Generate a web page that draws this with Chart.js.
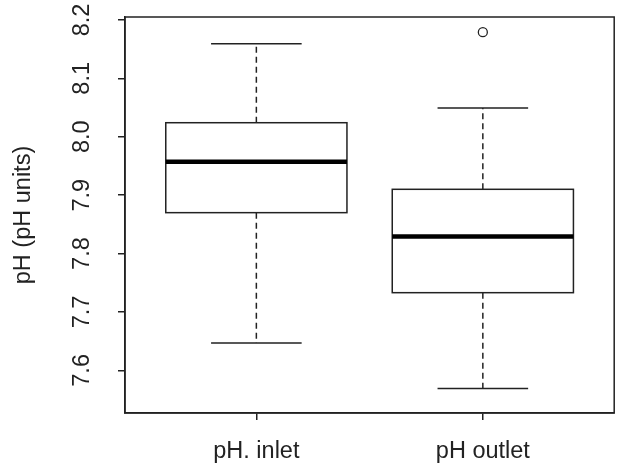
<!DOCTYPE html>
<html>
<head>
<meta charset="utf-8">
<script src="https://cdn.jsdelivr.net/npm/chart.js@4.4.1/dist/chart.umd.min.js"></script>
<style>
  html, body { margin: 0; padding: 0; background: #fff; }
  #wrap { width: 620px; height: 472px; position: relative; }
</style>
</head>
<body>
<div id="wrap"><canvas id="c" width="620" height="472"></canvas></div>
<script>
// ---- data ----
const categories  = ['pH. inlet', 'pH outlet'];
const whiskerLow  = [7.647, 7.569];
const q1          = [7.870, 7.733];
const median      = [7.957, 7.829];
const q3          = [8.024, 7.910];
const whiskerHigh = [8.159, 8.049];
const outliers    = [[], [8.179]];
const yTicks      = [7.6, 7.7, 7.8, 7.9, 8.0, 8.1, 8.2];
const yTitle      = 'pH (pH units)';

// ---- styles ----
const FONT = "'Liberation Sans', Arial, sans-serif";
const FSIZE = 23.5;
const INK = '#222';
const BOX_WIDTH = 0.8;

const outlierPoints = [];
outliers.forEach((arr, i) => arr.forEach(v => outlierPoints.push({ x: i + 1, y: v })));

const boxPlugin = {
  id: 'boxplot',
  beforeDatasetsDraw(chart) {
    const { ctx, chartArea, scales } = chart;
    const xs = scales.x, ys = scales.y;
    ctx.save();
    ctx.strokeStyle = INK;
    categories.forEach((c, i) => {
      const cx = xs.getPixelForValue(i + 1);
      const xl = xs.getPixelForValue(i + 1 - BOX_WIDTH / 2);
      const xr = xs.getPixelForValue(i + 1 + BOX_WIDTH / 2);
      const cl = xs.getPixelForValue(i + 1 - BOX_WIDTH / 4);
      const cr = xs.getPixelForValue(i + 1 + BOX_WIDTH / 4);
      const yLo = ys.getPixelForValue(whiskerLow[i]);
      const yQ1 = ys.getPixelForValue(q1[i]);
      const yMd = ys.getPixelForValue(median[i]);
      const yQ3 = ys.getPixelForValue(q3[i]);
      const yHi = ys.getPixelForValue(whiskerHigh[i]);
      // whiskers (dashed)
      ctx.lineWidth = 1.5;
      ctx.setLineDash([6, 4]);
      ctx.beginPath();
      ctx.moveTo(cx, yQ3); ctx.lineTo(cx, yHi);
      ctx.moveTo(cx, yQ1); ctx.lineTo(cx, yLo);
      ctx.stroke();
      ctx.setLineDash([]);
      // caps
      ctx.beginPath();
      ctx.moveTo(cl, yHi); ctx.lineTo(cr, yHi);
      ctx.moveTo(cl, yLo); ctx.lineTo(cr, yLo);
      ctx.stroke();
      // box
      ctx.fillStyle = '#fff';
      ctx.fillRect(xl, yQ3, xr - xl, yQ1 - yQ3);
      ctx.strokeRect(xl, yQ3, xr - xl, yQ1 - yQ3);
      // median
      ctx.lineWidth = 4.5;
      ctx.strokeStyle = '#000';
      ctx.beginPath();
      ctx.moveTo(xl, yMd); ctx.lineTo(xr, yMd);
      ctx.stroke();
      ctx.strokeStyle = INK;
    });
    // frame
    ctx.lineWidth = 1.5;
    ctx.strokeRect(chartArea.left, chartArea.top, chartArea.right - chartArea.left, chartArea.bottom - chartArea.top);
    ctx.restore();
  }
};

new Chart(document.getElementById('c'), {
  type: 'scatter',
  data: {
    datasets: [{
      data: outlierPoints,
      pointStyle: 'circle',
      pointRadius: 4.5,
      pointHoverRadius: 4.5,
      pointBorderWidth: 1.3,
      pointBorderColor: INK,
      pointBackgroundColor: '#fff',
      showLine: false
    }]
  },
  options: {
    responsive: false,
    animation: false,
    events: [],
    layout: { padding: { top: 17, right: 5, left: 0, bottom: 0 } },
    plugins: { legend: { display: false }, tooltip: { enabled: false } },
    scales: {
      x: {
        type: 'linear',
        min: 0.42, max: 2.58,
        afterBuildTicks: s => { s.ticks = categories.map((c, i) => ({ value: i + 1 })); },
        afterFit: s => { s.height = 59; s.paddingLeft = 0; s.paddingRight = 0; },
        ticks: {
          callback: (v) => categories[Math.round(v) - 1],
          font: { family: FONT, size: FSIZE },
          color: '#222',
          padding: 17,
          maxRotation: 0, minRotation: 0
        },
        grid: { display: true, drawOnChartArea: false, drawTicks: true, tickLength: 7, color: INK, lineWidth: 1.5 },
        border: { display: true, color: INK, width: 1.5 }
      },
      y: {
        type: 'linear',
        min: 7.527, max: 8.205,
        afterBuildTicks: s => { s.ticks = yTicks.map(v => ({ value: v })); },
        afterFit: s => { s.width = 125; s.paddingTop = 0; s.paddingBottom = 0; },
        ticks: {
          callback: v => v.toFixed(1),
          font: { family: FONT, size: FSIZE },
          color: '#222',
          minRotation: 90, maxRotation: 90,
          crossAlign: 'center',
          padding: 19
        },
        grid: { display: true, drawOnChartArea: false, drawTicks: true, tickLength: 7, color: INK, lineWidth: 1.5 },
        border: { display: true, color: INK, width: 1.5 },
        title: {
          display: true, text: yTitle,
          font: { family: FONT, size: FSIZE },
          color: '#222',
          padding: { top: 9, bottom: 0 }
        }
      }
    }
  },
  plugins: [boxPlugin]
});
</script>
</body>
</html>
